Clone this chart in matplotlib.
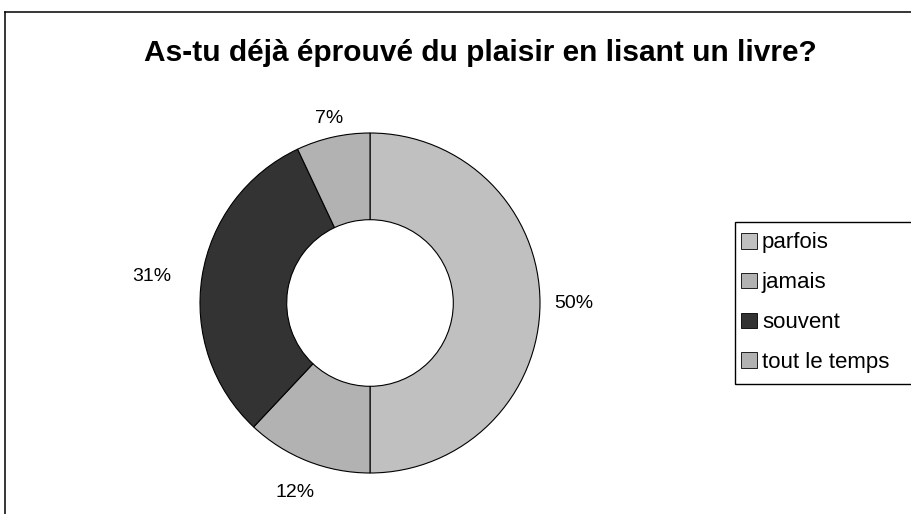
import numpy as np
import matplotlib.pyplot as plt
from matplotlib.lines import Line2D
from matplotlib.patches import Patch, Rectangle

'''
    Donut: plaisir de lire
'''

categories = ['parfois', 'jamais', 'souvent', 'tout le temps']
values = [50, 12, 31, 7]
colors = ['#c0c0c0', '#b2b2b2', '#333333', '#b2b2b2']
title = 'As-tu déjà éprouvé du plaisir en lisant un livre?'

plt.rcParams['font.family'] = ['Liberation Sans', 'DejaVu Sans']

fig = plt.figure(figsize=(9.11, 5.14), dpi=100)
W, H = 911, 514

# outer chart frame (cut at right and bottom)
fig.add_artist(Line2D([5 / W, 5 / W], [0, 1 - 12 / H], color='black', lw=1.1, transform=fig.transFigure))
fig.add_artist(Line2D([5 / W, 1], [1 - 12 / H, 1 - 12 / H], color='black', lw=1.1, transform=fig.transFigure))

fig.text(480 / W, 1 - 53 / H, title, ha='center', va='center', fontsize=21.5, fontweight='bold')

cx, cy, r = 370, 303, 170
ax = fig.add_axes([(cx - r) / W, (H - cy - r) / H, 2 * r / W, 2 * r / H])
wedges, _, autotexts = ax.pie(values, colors=colors, startangle=90, counterclock=False,
                              radius=1, autopct='%1.0f%%', pctdistance=1.2,
                              wedgeprops=dict(width=0.51, edgecolor='black', linewidth=0.8),
                              textprops=dict(fontsize=14))
# push labels a bit like Excel does
label_dist = [1.2, 1.2, 1.3, 1.11]
for w, t, d in zip(wedges, autotexts, label_dist):
    a = np.deg2rad((w.theta1 + w.theta2) / 2)
    t.set_position((d * np.cos(a), d * np.sin(a) - (0.05 if d > 1.25 else 0)))
ax.set_xlim(-1, 1)
ax.set_ylim(-1, 1)
ax.set_aspect('equal')
ax.axis('off')

# legend box runs off the right edge in the original
fig.add_artist(Rectangle((735 / W, 1 - 384 / H), 200 / W, 162 / H, transform=fig.transFigure,
                         facecolor='white', edgecolor='black', linewidth=1.0, zorder=2))
handles = [Patch(facecolor=c, edgecolor='black', linewidth=0.6) for c in colors]
leg = fig.legend(handles, categories, loc='upper left', bbox_to_anchor=(737 / W, 1 - 228 / H),
                 fontsize=16, frameon=False, handlelength=0.72, handleheight=0.72,
                 handletextpad=0.2, labelspacing=0.85, borderpad=0.2, borderaxespad=0)
leg.set_zorder(3)

plt.savefig('out.png', dpi=100)
